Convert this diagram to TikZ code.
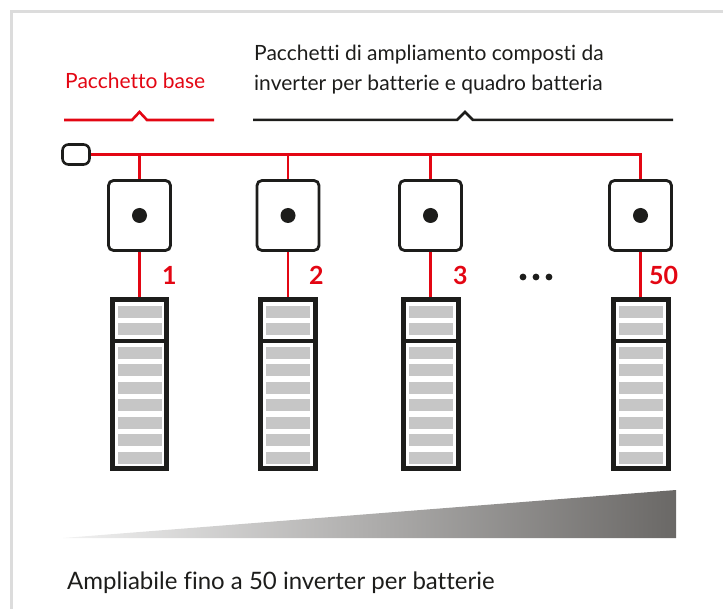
\documentclass[tikz,border=0pt]{standalone}
\usepackage{fontspec}
\setmainfont{Lato}[Ligatures=NoCommon]
\definecolor{myred}{HTML}{E30613}
\definecolor{ink}{HTML}{1D1D1B}
\definecolor{bargray}{HTML}{C6C6C6}
\definecolor{framegray}{HTML}{DCDCDC}
\definecolor{wedgedark}{HTML}{6A6866}
\definecolor{wedgelight}{HTML}{F2F2F2}
\begin{document}
\begin{tikzpicture}[x=1pt,y=-1pt,
  redline/.style={myred, line width=2.6pt},
  inkline/.style={ink, line width=2.5pt},
  port/.style={draw=ink, line width=2.6pt, rounded corners=6pt, minimum width=27pt, minimum height=20pt, inner sep=0pt, fill=white},
  inv/.style={draw=ink, line width=2.8pt, rounded corners=5pt, minimum width=62pt, minimum height=70pt, inner sep=0pt, fill=white},
  bat/.style={draw=ink, line width=3.2pt, minimum width=53pt, minimum height=167pt, inner sep=0pt},
  bar/.style={fill=bargray},
  num/.style={myred, font=\fontsize{25}{25}\selectfont\bfseries, inner sep=0pt, anchor=base west},
  txt/.style={ink, font=\fontsize{21}{30}\selectfont, inner sep=0pt, anchor=base west, align=left}
]
\useasboundingbox (0,0) rectangle (723,609);
% frame
\draw[framegray, line width=3pt] (11,609) -- (11,11.5) -- (723,11.5);

% top labels
\node[txt, myred] (lbase) at (65,89) {Pacchetto base};
\node[txt] (lext1) at (254,61) {Pacchetti di ampliamento composti da};
\node[txt] (lext2) at (254,91) {inverter per batterie e quadro batteria};

% braces
\coordinate (rb1) at (64,120);
\coordinate (rb2) at (214,120);
\draw[redline] (rb1) -- (132,120) -- (139.5,112) -- (147,120) -- (rb2);
\coordinate (kb1) at (253,120);
\coordinate (kb2) at (673,120);
\draw[inkline] (kb1) -- (457,120) -- (465,112) -- (473,120) -- (kb2);

% port and inverters
\node[port] (port) at (76,154.5) {};
\node[inv] (inv1) at (139.5,215.5) {};
\node[inv] (inv2) at (288,215.5) {};
\node[inv] (inv3) at (430.5,215.5) {};
\node[inv] (inv4) at (640.5,215.5) {};

% batteries
\node[bat] (bat1) at (139.5,384) {};
\node[bat] (bat2) at (288,384) {};
\node[bat] (bat3) at (431,384) {};
\node[bat] (bat4) at (641,384) {};

% bus
\draw[redline] (port.east) -| (inv4.north);
\foreach \i in {1,2,3} {
  \draw[redline] (inv\i.north) -- (inv\i.north |- port.east);
}
\foreach \i in {1,2,3,4} {
  \draw[redline] (inv\i.south) -- (bat\i.north -| inv\i.south);
  \fill[ink] (inv\i.center) circle (7.5pt);
  \draw[ink, line width=3.2pt] (bat\i.west |- 0,341) -- (bat\i.east |- 0,341);
  \foreach \t in {306,323,347,364,382,399,417,434,452} {
    \fill[bar] ([xshift=-22pt]bat\i.center |- 0,\t) rectangle ++(44,12);
  }
}
% redraw battery outlines on top
\foreach \i in {1,2,3,4} {
  \draw[ink, line width=3.2pt] (bat\i.north west) rectangle (bat\i.south east);
}

% numbers
\node[num] (n1) at (162,285) {1};
\node[num] (n2) at (309,285) {2};
\node[num] (n3) at (453,285) {3};
\node[num] (n4) at (649,285) {50};

% ellipsis dots
\fill[ink] (523,277) circle (3.4pt);
\fill[ink] (536,277) circle (3.4pt);
\fill[ink] (549,277) circle (3.4pt);

% wedge
\shade[left color=wedgelight, right color=wedgedark] (63,538) -- (676,490) -- (676,538) -- cycle;

% bottom text
\node[txt, font=\fontsize{24}{30}\selectfont] (lbottom) at (67,589) {Ampliabile fino a 50 inverter per batterie};
\end{tikzpicture}
\end{document}
